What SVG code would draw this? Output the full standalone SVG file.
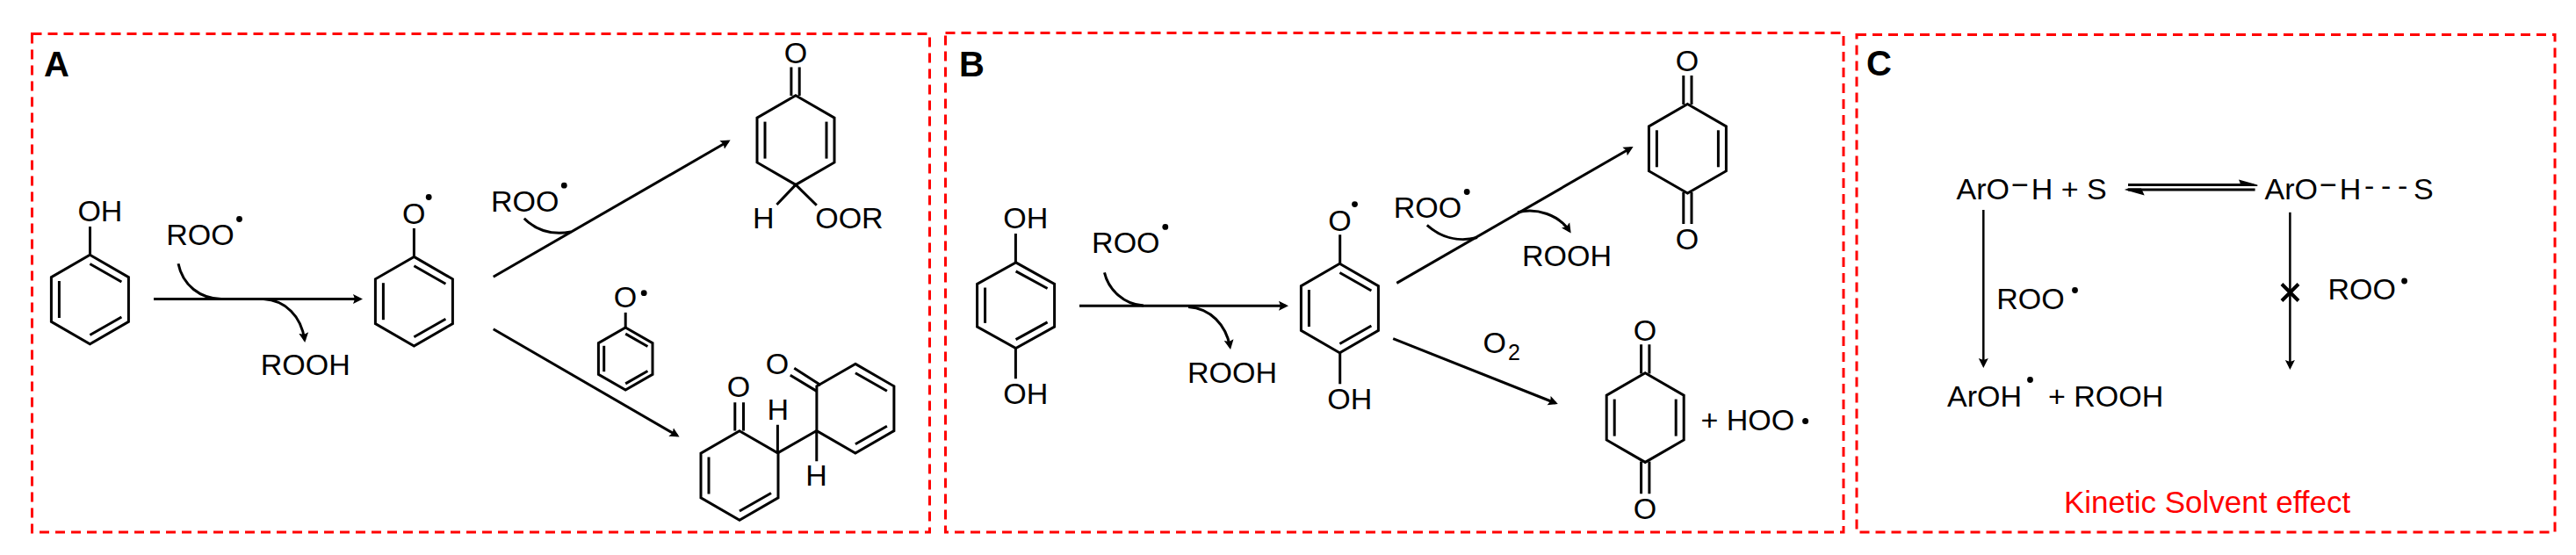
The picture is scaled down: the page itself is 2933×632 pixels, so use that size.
<svg xmlns="http://www.w3.org/2000/svg" width="2933" height="632" viewBox="0 0 2933 632">
<style>
text{font-family:"Liberation Sans",Arial,sans-serif;font-size:34px;fill:#000}
.m{text-anchor:middle}
.h{font-size:40px;font-weight:bold}
.box{fill:none;stroke:#f00;stroke-width:3;stroke-dasharray:11 7}
.b{fill:none;stroke:#000;stroke-width:3;stroke-linejoin:miter;stroke-linecap:butt;vector-effect:non-scaling-stroke}
.a{fill:none;stroke:#000;stroke-width:3;marker-end:url(#ah)}
.c{fill:none;stroke:#000;stroke-width:3}
.cv{fill:none;stroke:#000;stroke-width:3;marker-end:url(#ah)}
.t{fill:none;stroke:#000;stroke-width:2.5;marker-end:url(#ah)}
</style>
<defs>
<marker id="ah" markerUnits="userSpaceOnUse" markerWidth="14" markerHeight="14" refX="8" refY="6" orient="auto"><path d="M0,0.5 L11,6 L0,11.5 L2,6 Z" fill="#000"/></marker>
<path id="ring" class="b" d="M0,-50.8 L44,-25.4 L44,25.4 L0,50.8 L-44,25.4 L-44,-25.4 Z"/>
<path id="tl" class="b" d="M0,-40.5 L36,-20"/>
<path id="l" class="b" d="M-35,-21 L-35,21"/>
<path id="r" class="b" d="M35,-21 L35,21"/>
<path id="bl" class="b" d="M0,40.5 L36,20"/>
<g id="phenyl"><use href="#ring"/><use href="#tl"/><use href="#l"/><use href="#bl"/></g>
<g id="quin"><use href="#ring"/><use href="#l"/><use href="#r"/></g>
</defs>

<g id="panel-a"><rect class="box" x="36.5" y="38.5" width="1022" height="567.5"/><text class="h" x="50" y="86.7">A</text></g>
<g id="panel-b"><rect class="box" x="1076.5" y="37.5" width="1022.5" height="568.5"/><text class="h" x="1092" y="86.7">B</text></g>
<g id="panel-c"><rect class="box" x="2114" y="39.5" width="795" height="566.5"/><text class="h" x="2125" y="86">C</text><text x="2350" y="583.6" style="fill:#f00;font-size:35px">Kinetic Solvent effect</text></g>

<g id="connectors">
<path class="a" d="M175,340.6 H410"/>
<path class="c" d="M203,300.3 C208,325 228,340 252,340.6"/>
<path class="cv" d="M300,340.6 C325,342 343,360 346.8,387"/>
<path class="a" d="M561.7,315.2 L829,161"/>
<path class="c" d="M596.8,248.7 C610,262 628,268 650,264"/>
<path class="a" d="M561.7,374.8 L771,496"/>
<path class="a" d="M1229,348.2 H1464"/>
<path class="c" d="M1257.5,310.4 C1262,330 1280,347 1302,348"/>
<path class="cv" d="M1353,349.5 C1378,351 1396,370 1400.5,395"/>
<path class="a" d="M1590.3,322.4 L1857,168.5"/>
<path class="c" d="M1624.8,256.3 C1640,270 1660,276 1682,270.5"/>
<path class="cv" d="M1728,241.8 C1750,236 1775,245 1787,263"/>
<path class="a" d="M1586.2,385.7 L1771,459"/>
<path class="t" d="M2258.3,239 V416"/>
<path class="t" d="M2607.4,241.8 V418"/>
<path class="c" d="M2423,210.4 H2566"/>
<path d="M2549,204.4 L2570.3,210.4 L2570.3,212 L2552,212 Z" fill="#000"/>
<path class="c" d="M2423,216 H2567.6"/>
<path d="M2418.8,216 L2441.7,222.5 L2438,214.5 L2423,214.5 Z" fill="#000"/>
<path d="M2598,323.5 L2617,342.5 M2617,323.5 L2598,342.5" fill="none" stroke="#000" stroke-width="4"/>
</g>

<g id="phenol">
<use href="#phenyl" x="102.4" y="341"/><path class="b" d="M102.5,258 V290"/>
<text x="88.4" y="252.3">OH</text>
</g>
<g id="roo-a1"><text x="189.2" y="279.3">ROO</text><circle cx="272.5" cy="249.5" r="3.4"/></g>
<g id="rooh-a1"><text x="296.7" y="427.2">ROOH</text></g>
<g id="phenoxyl">
<use href="#phenyl" x="471.4" y="343.2"/><path class="b" d="M471.4,260 V292"/>
<text class="m" x="471.2" y="254.7">O</text><circle cx="488.2" cy="224.5" r="3.4"/>
</g>
<g id="roo-a2"><text x="559" y="241">ROO</text><circle cx="642.3" cy="211.2" r="3.4"/></g>
<g id="peroxide">
<use href="#quin" x="906" y="159.6"/>
<path class="b" d="M900.9,76.6 V109 M910.2,76.6 V109 M906,210.4 L884.4,233 M906,210.4 L929.8,233.8"/>
<text class="m" x="906" y="71.7">O</text>
<text x="857" y="260">H</text>
<text x="928.2" y="260">OOR</text>
</g>
<g id="phenoxyl-small">
<g transform="translate(712.2,408.5) scale(.7)"><use href="#phenyl"/></g>
<path class="b" d="M712.2,355.9 V372.8"/>
<text class="m" x="711.9" y="349.5">O</text><circle cx="733.2" cy="333.7" r="3.4"/>
</g>
<g id="dimer">
<use href="#ring" x="842" y="541.5"/><use href="#l" x="842" y="541.5"/><use href="#bl" x="842" y="541.5"/>
<use href="#ring" x="973.9" y="465.2"/><use href="#tl" x="973.9" y="465.2"/><use href="#bl" x="973.9" y="465.2"/>
<path class="b" d="M836.8,458.3 V490.5 M846.5,458.3 V490.5 M885.4,515.9 V483.7 M885.4,515.9 L929.8,490.5 M929.8,490.5 V525.2 M899.8,427.2 L929.8,445.4 M904.3,419.2 L934.3,438.5"/>
<text class="m" x="841" y="452.2">O</text>
<text class="m" x="885" y="426.4">O</text>
<text class="m" x="885.7" y="478.4">H</text>
<text class="m" x="929.5" y="553.4">H</text>
</g>

<g id="hydroquinone">
<g transform="translate(1156.6,347.7) scale(1,.96)"><use href="#phenyl"/></g>
<path class="b" d="M1156.4,266 V299 M1156.4,396.2 V431.3"/>
<text x="1142.3" y="260.4">OH</text>
<text x="1142.3" y="460.3">OH</text>
</g>
<g id="roo-b1"><text x="1243.1" y="288.2">ROO</text><circle cx="1326.8" cy="258.4" r="3.4"/></g>
<g id="rooh-b1"><text x="1352" y="436.1">ROOH</text></g>
<g id="semiquinone">
<use href="#phenyl" x="1525.4" y="351"/>
<path class="b" d="M1525.7,267.2 V300.3 M1525.7,401.8 V437.3"/>
<text class="m" x="1525.4" y="262.8">O</text><circle cx="1542.5" cy="232.6" r="3.4"/>
<text x="1511.3" y="466.3">OH</text>
</g>
<g id="roo-b2"><text x="1586.7" y="247.9">ROO</text><circle cx="1670.2" cy="218.5" r="3.4"/></g>
<g id="rooh-b2"><text x="1733" y="303.1">ROOH</text></g>
<g id="benzoquinone-1">
<use href="#quin" x="1921.4" y="169.3"/>
<path class="b" d="M1916.8,85.9 V119 M1926,85.9 V119 M1916.8,219 V255 M1926,219 V255"/>
<text class="m" x="1921" y="81.4">O</text>
<text class="m" x="1921" y="284.2">O</text>
</g>
<g id="o2-label"><text x="1688.6" y="402.3">O<tspan font-size="25" dy="8" dx="2">2</tspan></text></g>
<g id="benzoquinone-2">
<use href="#quin" x="1873.2" y="475.6"/>
<path class="b" d="M1868.6,392.2 V425.5 M1877.9,392.2 V425.5 M1868.6,525.5 V562.3 M1877.9,525.5 V562.3"/>
<text class="m" x="1873" y="387.7">O</text>
<text class="m" x="1873" y="591.3">O</text>
</g>
<g id="hoo"><text x="1936.5" y="490.1">+ HOO</text><circle cx="2055.6" cy="479.6" r="3.5"/></g>

<g id="aroh-s"><text x="2227.5" y="226.9">ArO<tspan dy="-5" dx="2">−</tspan><tspan dy="5" dx="3">H + S</tspan></text></g>
<g id="aroh-hbond"><text x="2578.5" y="226.9">ArO<tspan dy="-5" dx="2">−</tspan><tspan dy="5" dx="3">H</tspan><tspan x="2692" dy="-4">-</tspan><tspan x="2711">-</tspan><tspan x="2730">-</tspan><tspan x="2748" dy="4">S</tspan></text></g>
<g id="roo-c1"><text x="2273.3" y="351.9">ROO</text><circle cx="2362.5" cy="330.5" r="3.4"/></g>
<g id="roo-c2"><text x="2650.4" y="341.4">ROO</text><circle cx="2737.6" cy="320" r="3.4"/></g>
<g id="aroh-products"><text x="2217" y="462.7">ArOH</text><circle cx="2311.5" cy="432.5" r="3.4"/><text x="2332" y="462.7">+ ROOH</text></g>
</svg>
